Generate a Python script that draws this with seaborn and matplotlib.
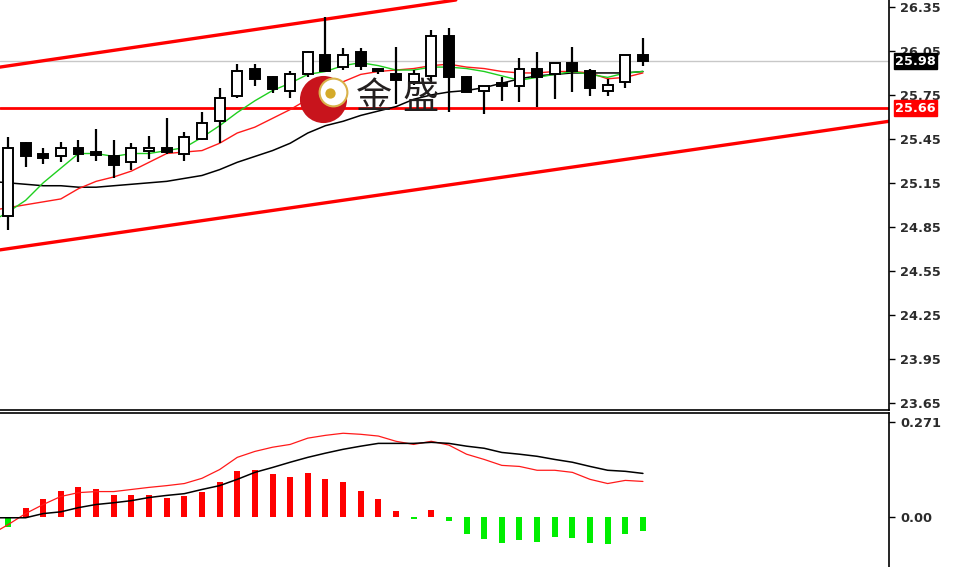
import numpy as np
import pandas as pd
import seaborn as sns
import matplotlib.pyplot as plt

# candle data (price)
opens = [24.92, 25.42, 25.35, 25.33, 25.39, 25.36, 25.33, 25.29, 25.37, 25.39, 25.35, 25.45, 25.57, 25.74, 25.93, 25.87, 25.78, 25.89, 26.02,
         25.94, 26.04, 25.93, 25.89, 25.84, 25.88, 26.15, 25.87, 25.78, 25.83, 25.81, 25.93, 25.89, 25.97, 25.91, 25.78, 25.84, 26.02]
highs = [25.46, 25.43, 25.39, 25.43, 25.44, 25.52, 25.44, 25.42, 25.47, 25.59, 25.50, 25.63, 25.80, 25.96, 25.96, 25.88, 25.91, 26.05, 26.28,
         26.07, 26.07, 25.93, 26.08, 25.92, 26.19, 26.21, 25.88, 25.81, 25.87, 26.00, 26.04, 25.97, 26.08, 25.93, 25.86, 26.02, 26.14]
lows = [24.83, 25.26, 25.28, 25.29, 25.29, 25.30, 25.18, 25.24, 25.31, 25.35, 25.30, 25.44, 25.42, 25.73, 25.81, 25.76, 25.73, 25.87, 25.91,
        25.92, 25.92, 25.89, 25.69, 25.82, 25.84, 25.63, 25.77, 25.62, 25.71, 25.70, 25.67, 25.72, 25.77, 25.74, 25.74, 25.80, 25.95]
closes = [25.39, 25.33, 25.32, 25.39, 25.35, 25.34, 25.27, 25.39, 25.39, 25.36, 25.46, 25.56, 25.73, 25.91, 25.86, 25.79, 25.89, 26.04, 25.91,
          26.02, 25.95, 25.91, 25.85, 25.89, 26.15, 25.87, 25.77, 25.81, 25.81, 25.93, 25.87, 25.97, 25.91, 25.80, 25.82, 26.02, 25.98]

# moving averages, first value belongs to the bar before the visible ones
ma_fast = [24.88, 24.95, 25.03, 25.15, 25.25, 25.35, 25.35, 25.33, 25.35, 25.35, 25.37, 25.39, 25.46, 25.54, 25.63, 25.71, 25.78, 25.83, 25.89,
           25.91, 25.95, 25.97, 25.95, 25.92, 25.92, 25.94, 25.94, 25.93, 25.91, 25.88, 25.85, 25.87, 25.89, 25.91, 25.89, 25.87, 25.90, 25.91]
ma_mid = [24.96, 24.98, 25.00, 25.02, 25.04, 25.11, 25.16, 25.19, 25.23, 25.29, 25.35, 25.36, 25.37, 25.42, 25.49, 25.53, 25.59, 25.65, 25.72,
          25.78, 25.84, 25.89, 25.91, 25.92, 25.93, 25.95, 25.96, 25.94, 25.93, 25.91, 25.90, 25.90, 25.91, 25.91, 25.90, 25.86, 25.87, 25.90]
ma_slow = [25.16, 25.15, 25.14, 25.13, 25.13, 25.12, 25.12, 25.13, 25.14, 25.15, 25.16, 25.18, 25.20, 25.24, 25.29, 25.33, 25.37, 25.42, 25.49,
           25.54, 25.57, 25.61, 25.64, 25.67, 25.72, 25.75, 25.77, 25.78, 25.80, 25.83, 25.86, 25.88, 25.89, 25.90, 25.90, 25.90, 25.90, 25.91]

# MACD panel
hist = [-0.030, 0.026, 0.052, 0.075, 0.084, 0.080, 0.063, 0.063, 0.063, 0.054, 0.060, 0.072, 0.098, 0.132, 0.135, 0.121, 0.115, 0.124, 0.107,
        0.098, 0.075, 0.052, 0.017, -0.006, 0.020, -0.012, -0.049, -0.063, -0.075, -0.068, -0.071, -0.057, -0.062, -0.075, -0.078, -0.049, -0.042]
macd_red = [-0.052, -0.023, 0.009, 0.035, 0.058, 0.069, 0.072, 0.072, 0.078, 0.084, 0.089, 0.095, 0.110, 0.135, 0.170, 0.187, 0.199, 0.207, 0.225,
            0.233, 0.239, 0.236, 0.231, 0.216, 0.207, 0.216, 0.205, 0.179, 0.164, 0.147, 0.144, 0.133, 0.133, 0.127, 0.107, 0.095, 0.104, 0.101]
macd_black = [-0.003, -0.003, -0.003, 0.009, 0.014, 0.026, 0.035, 0.040, 0.046, 0.055, 0.061, 0.066, 0.078, 0.089, 0.107, 0.127, 0.141, 0.156, 0.170,
              0.182, 0.193, 0.202, 0.210, 0.210, 0.210, 0.213, 0.210, 0.202, 0.196, 0.184, 0.179, 0.173, 0.164, 0.156, 0.144, 0.133, 0.130, 0.124]

# trend channel anchors (bar index, price) and levels
upper_chan = [(0, 25.948), (36, 26.586)]
lower_chan = [(0, 24.700), (36, 25.327)]
support = 25.66
last_price = 25.98
price_ticks = [26.35, 26.05, 25.75, 25.45, 25.15, 24.85, 24.55, 24.25, 23.95, 23.65]

n = len(opens)
df = pd.DataFrame({'o': opens, 'h': highs, 'l': lows, 'c': closes})
df['idx'] = np.arange(n)
ma = pd.DataFrame({'idx': np.arange(-1, n), 'fast': ma_fast, 'mid': ma_mid, 'slow': ma_slow,
                   'mred': macd_red, 'mblack': macd_black})

sns.set_style('white')
plt.rcParams['font.family'] = ['DejaVu Sans']
lab_font = {'size': 9.3, 'weight': 'bold', 'color': '#2b2b2b'}

fig = plt.figure(figsize=(9.56, 5.67), dpi=100)
ax = fig.add_axes([0, 157 / 567, 889 / 956, 410 / 567])
ax2 = fig.add_axes([0, 0, 889 / 956, 154 / 567])

# channel + levels
ax.axline(upper_chan[0], upper_chan[1], color='#ff0000', lw=2.4, zorder=2)
ax.axline(lower_chan[0], lower_chan[1], color='#ff0000', lw=2.4, zorder=2)
ax.axhline(support, color='#ff0000', lw=2, zorder=2)
ax.axhline(last_price, color='#c8c8c8', lw=1, zorder=1)

# moving averages
sns.lineplot(data=ma, x='idx', y='slow', color='black', lw=1.1, ax=ax, zorder=3)
sns.lineplot(data=ma, x='idx', y='mid', color='#ff1a1a', lw=1.0, ax=ax, zorder=3)
sns.lineplot(data=ma, x='idx', y='fast', color='#1fcf1f', lw=1.0, ax=ax, zorder=3)

# candles
ax.vlines(df['idx'], df['l'], df['h'], color='black', lw=1.6, zorder=4)
up = df['c'] >= df['o']
body_lo = np.minimum(df['o'], df['c'])
body_h = np.maximum((df['c'] - df['o']).abs(), 0.012)
ax.bar(df['idx'][up], body_h[up], bottom=body_lo[up], width=0.56, color='white', edgecolor='black', lw=1.4, zorder=5)
ax.bar(df['idx'][~up], body_h[~up], bottom=body_lo[~up], width=0.56, color='black', edgecolor='black', lw=1.4, zorder=5)

ax.set_xlim(-0.45, 49.95)
ax.set_ylim(23.599, 26.398)
ax.yaxis.tick_right()
ax.set_yticks(price_ticks)
ax.set_yticklabels([f'{t:.2f}' for t in price_ticks], **lab_font)
ax.set_xticks([])
ax.set_xlabel('')
ax.set_ylabel('')
ax.tick_params(axis='y', direction='out', length=4, width=1, color='black', pad=4, right=True, left=False)
for s in ['left', 'top']:
    ax.spines[s].set_visible(False)
for s in ['right', 'bottom']:
    ax.spines[s].set_color('black')
    ax.spines[s].set_linewidth(1.2)

# price labels on axis
ax.text(1.007, last_price, f'{last_price:.2f}', transform=ax.get_yaxis_transform(), va='center', ha='left',
        fontsize=9.3, color='white', fontweight='bold', clip_on=False, zorder=10,
        bbox=dict(boxstyle='square,pad=0.1', fc='black', ec='black'))
ax.text(1.007, support, f'{support:.2f}', transform=ax.get_yaxis_transform(), va='center', ha='left',
        fontsize=9.3, color='white', fontweight='bold', clip_on=False, zorder=10,
        bbox=dict(boxstyle='square,pad=0.1', fc='#ff0000', ec='#ff0000'))

# watermark logo
ax.scatter([323 / 889], [1 - 99 / 410], s=1150, color='#c8141c', transform=ax.transAxes, zorder=8, lw=0)
ax.scatter([333 / 889], [1 - 92 / 410], s=400, color='white', edgecolor='#d9b24a', lw=1.5, transform=ax.transAxes, zorder=8)
ax.scatter([330 / 889], [1 - 93 / 410], s=55, color='#d4aa2a', transform=ax.transAxes, zorder=9, lw=0)
for ch, xp in [('金', 374), ('盛', 420)]:
    ax.text(xp / 889, 1 - 98 / 410, ch, transform=ax.transAxes, ha='center', va='center', fontsize=26,
            color='#231f1f', family=['Noto Sans CJK SC', 'DejaVu Sans'], zorder=9)

# MACD panel
colors = ['#ff0000' if v >= 0 else '#00ee00' for v in hist]
ax2.bar(np.arange(n), hist, width=0.34, color=colors, lw=0, zorder=2)
sns.lineplot(data=ma, x='idx', y='mred', color='#ff1a1a', lw=0.9, ax=ax2, zorder=3)
sns.lineplot(data=ma, x='idx', y='mblack', color='black', lw=1.1, ax=ax2, zorder=3)
ax2.set_xlim(-0.45, 49.95)
ax2.set_ylim(-0.144, 0.297)
ax2.yaxis.tick_right()
ax2.set_yticks([0.271, 0.0])
ax2.set_yticklabels(['0.271', '0.00'], **lab_font)
ax2.set_xticks([])
ax2.set_xlabel('')
ax2.set_ylabel('')
ax2.tick_params(axis='y', direction='out', length=4, width=1, color='black', pad=4, right=True, left=False)
for s in ['left', 'bottom']:
    ax2.spines[s].set_visible(False)
for s in ['right', 'top']:
    ax2.spines[s].set_color('black')
    ax2.spines[s].set_linewidth(1.2)

fig.savefig('out.png', dpi=100)
